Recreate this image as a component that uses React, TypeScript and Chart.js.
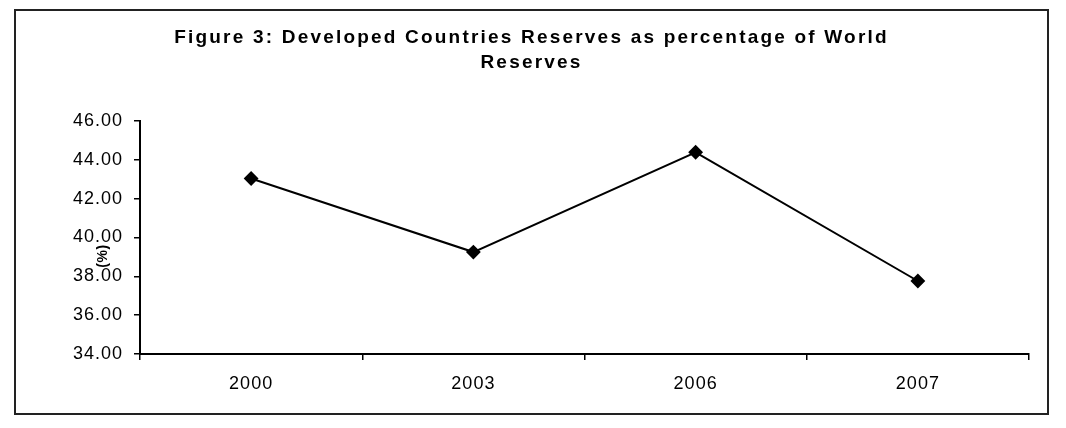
import { useEffect, useRef } from 'react';
import { Chart, registerables } from 'chart.js';

Chart.register(...registerables);

const categories: string[] = ['2000', '2003', '2006', '2007'];
const reserveShare: number[] = [43.04, 39.25, 44.39, 37.76];
const yMin = 34;
const yMax = 46;
const yStep = 2;
const titleLines: string[] = [
  'Figure 3: Developed Countries Reserves as percentage of World',
  'Reserves',
];
const yAxisTitle = '(%)';

const FONT = "'Liberation Sans', Arial, Helvetica, sans-serif";
const CANVAS_W = 1031;
const CANVAS_H = 402;

const textPlugin = {
  id: 'textDeco',
  beforeLayout(chart: any) {
    chart.ctx.letterSpacing = '1px';
  },
  beforeDraw(chart: any) {
    chart.ctx.letterSpacing = '1px';
  },
  afterDraw(chart: any) {
    const ctx = chart.ctx as CanvasRenderingContext2D;
    ctx.save();
    ctx.fillStyle = '#000';
    ctx.textAlign = 'center';
    ctx.textBaseline = 'middle';
    (ctx as any).letterSpacing = '2.2px';
    ctx.font = `bold 19px ${FONT}`;
    const cx = chart.width / 2;
    ctx.fillText(titleLines[0], cx, 27);
    ctx.fillText(titleLines[1], cx, 52);
    (ctx as any).letterSpacing = '0.5px';
    ctx.font = `bold 14px ${FONT}`;
    ctx.translate(87, 245);
    ctx.rotate(-Math.PI / 2);
    ctx.fillText(yAxisTitle, 0, 0);
    ctx.restore();
  },
};

function ChartView() {
  const ref = useRef<HTMLCanvasElement | null>(null);
  useEffect(() => {
    if (!ref.current) return;
    const chart = new Chart(ref.current, {
      type: 'line',
      data: {
        labels: categories,
        datasets: [
          {
            data: reserveShare,
            borderColor: '#000',
            backgroundColor: '#000',
            borderWidth: 2,
            pointStyle: 'rectRot',
            pointRadius: 6,
            pointHoverRadius: 6,
            pointBackgroundColor: '#000',
            pointBorderColor: '#000',
            tension: 0,
          },
        ],
      },
      options: {
        responsive: false,
        animation: false,
        devicePixelRatio: 1,
        layout: { padding: { top: 110, right: 18, bottom: 0, left: 0 } },
        plugins: {
          legend: { display: false },
          tooltip: { enabled: false },
          title: { display: false },
        },
        scales: {
          x: {
            type: 'category',
            offset: true,
            grid: {
              offset: true,
              drawOnChartArea: false,
              drawTicks: true,
              tickLength: 6,
              color: '#000',
              lineWidth: 1.5,
            },
            border: { display: true, color: '#000', width: 2 },
            ticks: {
              color: '#000',
              padding: 13,
              font: { family: FONT, size: 18 },
              maxRotation: 0,
            },
            afterFit: (scale: any) => {
              scale.height = 59;
            },
          },
          y: {
            min: yMin,
            max: yMax,
            grid: {
              drawOnChartArea: false,
              drawTicks: true,
              tickLength: 6,
              color: '#000',
              lineWidth: 1.5,
            },
            border: { display: true, color: '#000', width: 2 },
            ticks: {
              stepSize: yStep,
              color: '#000',
              padding: 11,
              font: { family: FONT, size: 18 },
              callback: (v: any) => Number(v).toFixed(2),
            },
            afterFit: (scale: any) => {
              scale.width = 124;
            },
          },
        },
      },
      plugins: [textPlugin],
    });
    return () => chart.destroy();
  }, []);
  return (
    <canvas
      ref={ref}
      width={CANVAS_W}
      height={CANVAS_H}
      style={{ display: 'block', width: CANVAS_W, height: CANVAS_H }}
    />
  );
}

export default function App() {
  return (
    <div
      style={{
        marginLeft: 6,
        marginTop: 1,
        width: CANVAS_W,
        height: CANVAS_H,
        border: '2px solid #222',
        background: '#fff',
      }}
    >
      <ChartView />
    </div>
  );
}
